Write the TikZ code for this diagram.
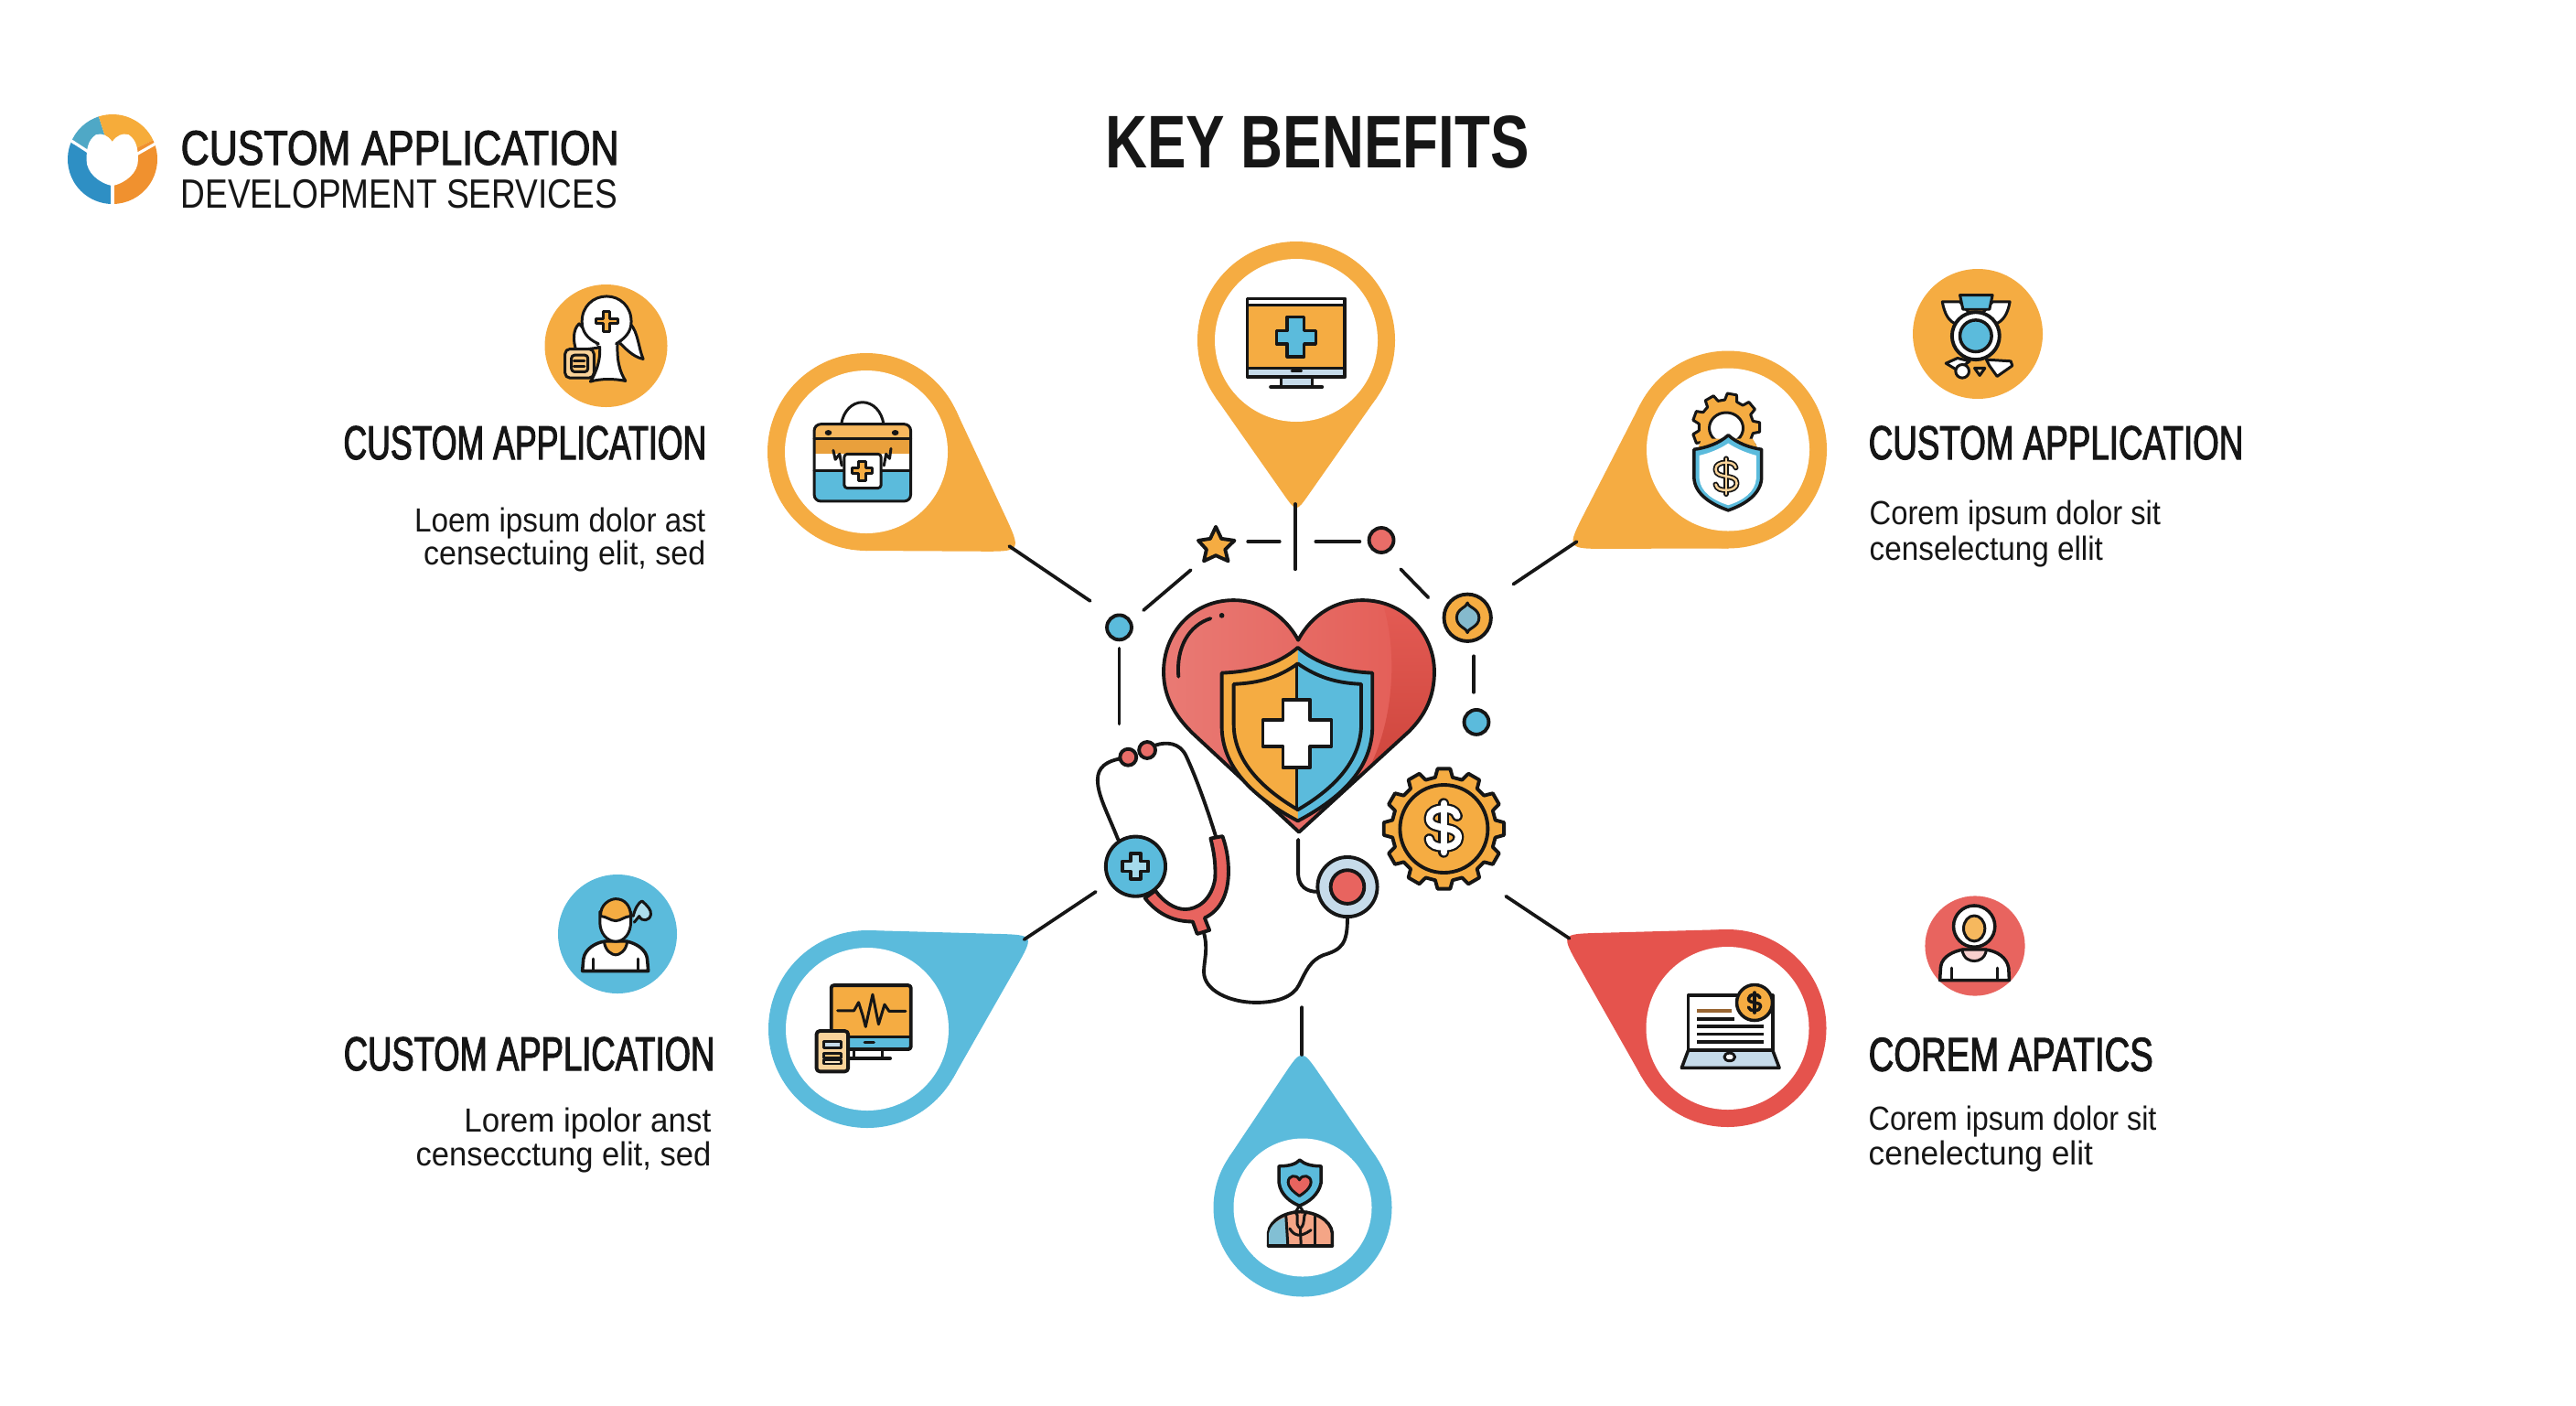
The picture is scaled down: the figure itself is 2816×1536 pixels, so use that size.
\documentclass[tikz,border=0pt]{standalone}
\usepackage{fontspec}
\setmainfont{Liberation Sans}
\newfontfamily\titlefont[FakeStretch=0.78]{Liberation Sans Bold}
\newfontfamily\headTL[FakeStretch=0.685,FakeBold=2]{Liberation Sans}
\newfontfamily\headTR[FakeStretch=0.707,FakeBold=2]{Liberation Sans}
\newfontfamily\headBL[FakeStretch=0.70,FakeBold=2]{Liberation Sans}
\newfontfamily\headBR[FakeStretch=0.735,FakeBold=2]{Liberation Sans}
\newfontfamily\logoafont[FakeStretch=0.81,FakeBold=2]{Liberation Sans}
\newfontfamily\logobfont[FakeStretch=0.83]{Liberation Sans}
\newfontfamily\bodyTLa[FakeStretch=0.91]{Liberation Sans}
\newfontfamily\bodyTLb[FakeStretch=0.93]{Liberation Sans}
\newfontfamily\bodyTRa[FakeStretch=0.895]{Liberation Sans}
\newfontfamily\bodyTRb[FakeStretch=0.91]{Liberation Sans}
\newfontfamily\bodyBLa[FakeStretch=0.955]{Liberation Sans}
\newfontfamily\bodyBLb[FakeStretch=0.945]{Liberation Sans}
\newfontfamily\bodyBRa[FakeStretch=0.885]{Liberation Sans}
\newfontfamily\bodyBRb[FakeStretch=0.965]{Liberation Sans}
\definecolor{oran}{HTML}{F5AC42}
\definecolor{oranD}{HTML}{E9A03C}
\definecolor{oranL}{HTML}{F9D39A}
\definecolor{blu}{HTML}{5BBBDC}
\definecolor{bluL}{HTML}{C6DBEA}
\definecolor{redd}{HTML}{E5534D}
\definecolor{redL}{HTML}{E97A74}
\definecolor{redM}{HTML}{E35B54}
\definecolor{redD}{HTML}{CF463D}
\definecolor{ink}{HTML}{161616}
\definecolor{peach}{HTML}{F4A586}
\definecolor{logoa}{RGB}{46,143,196}
\definecolor{logob}{RGB}{79,168,198}
\definecolor{logoc}{RGB}{246,172,58}
\definecolor{logod}{RGB}{240,145,47}
\tikzset{
  ln/.style={draw=ink,line width=.85pt,line join=round,line cap=round},
  lnb/.style={draw=ink,line width=1.1pt,line join=round,line cap=round},
  conn/.style={draw=ink,line width=1.05pt,line cap=round},
  titlet/.style={font=\titlefont\fontsize{23.2}{26}\selectfont,text=ink,inner sep=0pt},
  headt/.style={text=ink,inner sep=0pt},
  bodyt/.style={text=ink,inner sep=0pt},
  zA/.style={shift={(1100,500)},x=0.0040816cm,y=-0.0040816cm},
  zL/.style={shift={(40,90)},x=0.0044643cm,y=-0.0033333cm},
  zC/.style={shift={(560,280)},x=0.0038462cm,y=-0.0033333cm},
  zD/.style={shift={(1280,250)},x=0.0048473cm,y=-0.0033333cm},
  zE/.style={shift={(560,940)},x=0.0038270cm,y=-0.0033333cm},
  zF/.style={shift={(1280,1000)},x=0.0048473cm,y=-0.0033333cm},
  zG/.style={shift={(1300,1130)},x=0.0033333cm,y=-0.0033333cm},
  zH/.style={shift={(2040,280)},x=0.0033333cm,y=-0.0033333cm},
  zI/.style={shift={(2040,960)},x=0.0033333cm,y=-0.0033333cm},
}
\newcommand\hs{\fontsize{14.8}{17}\selectfont}
\newcommand\bs{\fontsize{10.4}{12}\selectfont}
% cx cy R r tipx tipy colour roundness
\newcommand\pinshape[8]{%
  \pgfmathsetmacro\pa{atan2(#6-#2,#5-#1)}%
  \pgfmathsetmacro\pd{veclen(#6-#2,#5-#1)}%
  \pgfmathsetmacro\pb{acos(#3/\pd)}%
  \pgfmathsetmacro\Ax{#1+#3*cos(\pa+\pb)}\pgfmathsetmacro\Ay{#2+#3*sin(\pa+\pb)}%
  \pgfmathsetmacro\Bx{#1+#3*cos(\pa-\pb)}\pgfmathsetmacro\By{#2+#3*sin(\pa-\pb)}%
  \pgfmathsetmacro\pl{\pd*sin(\pb)}%
  \pgfmathsetmacro\kk{#8/\pl}%
  \pgfmathsetmacro\Cx{#5+(\Ax-#5)*\kk}\pgfmathsetmacro\Cy{#6+(\Ay-#6)*\kk}%
  \pgfmathsetmacro\Dx{#5+(\Bx-#5)*\kk}\pgfmathsetmacro\Dy{#6+(\By-#6)*\kk}%
  \fill[#7] (#1,#2) circle[radius=#3];
  \fill[#7] (\Ax,\Ay) -- (\Cx,\Cy) .. controls (#5,#6) .. (\Dx,\Dy) -- (\Bx,\By) -- (#1,#2) -- cycle;
  \fill[white] (#1,#2) circle[radius=#4];
}
% cx cy rout rin teeth  -> path
\newcommand\gearp[6][]{%
  \path[#1] ({#2+#5*cos(-0.32*360/#6)},{#3+#5*sin(-0.32*360/#6)})
  \foreach \ga in {1,...,#6}{
    -- ({#2+#4*cos((\ga-1-0.20)*360/#6)},{#3+#4*sin((\ga-1-0.20)*360/#6)})
    -- ({#2+#4*cos((\ga-1+0.20)*360/#6)},{#3+#4*sin((\ga-1+0.20)*360/#6)})
    -- ({#2+#5*cos((\ga-1+0.32)*360/#6)},{#3+#5*sin((\ga-1+0.32)*360/#6)})
    -- ({#2+#5*cos((\ga-0.32)*360/#6)},{#3+#5*sin((\ga-0.32)*360/#6)})
  } -- cycle;
}
% x y size outerwidth innerwidth fillcolour
\newcommand\dollarmark[6]{%
  \begin{scope}[shift={(#1,#2)},x={#3*0.01cm},y={-#3*0.01cm}]
    \foreach \lw/\cc in {#4/ink,#5/#6}{
      \draw[line width=\lw,\cc,line cap=round,line join=round]
        (.5,-.45) .. controls (.45,-.68) and (.2,-.72) .. (0,-.72)
        .. controls (-.32,-.72) and (-.55,-.6) .. (-.55,-.36)
        .. controls (-.55,-.06) and (-.2,-.05) .. (0,0)
        .. controls (.25,.05) and (.55,.08) .. (.55,.36)
        .. controls (.55,.6) and (.3,.72) .. (0,.72)
        .. controls (-.25,.72) and (-.5,.68) .. (-.55,.42);
      \draw[line width=\lw,\cc,line cap=round] (0,-.92) -- (0,.92);
    }
  \end{scope}
}
\begin{document}
\begin{tikzpicture}[x=0.01cm,y=-0.01cm]
\useasboundingbox (0,0) rectangle (2816,1536);
\fill[white] (0,0) rectangle (2816,1536);

% ---------- logo
\fill[logoa] (123,174) -- ++(90:49) arc (90:201:49) -- cycle;
\fill[logob] (123,174) -- ++(201:49) arc (201:252:49) -- cycle;
\fill[logoc] (123,174) -- ++(252:49) arc (252:335:49) -- cycle;
\fill[logod] (123,174) -- ++(335:49) arc (335:450:49) -- cycle;
\begin{scope}[zL]
\fill[white] (185,195) .. controls (175,175) and (160,165) .. (145,172)
  .. controls (125,190) and (122,220) .. (122,255)
  .. controls (122,295) and (150,330) .. (185,340)
  .. controls (220,330) and (248,295) .. (248,255)
  .. controls (248,220) and (245,190) .. (225,172)
  .. controls (210,165) and (195,175) .. (185,195) -- cycle;
\draw[white,line width=.9pt] (78,186) -- (125,227);
\draw[white,line width=.9pt] (295,198) -- (245,236);
\draw[white,line width=1.1pt] (185,335) -- (185,405);
\end{scope}
\node[font=\logoafont\fontsize{15.1}{17}\selectfont,text=ink,inner sep=0pt,anchor=base west] (logoA) at (197,180) {CUSTOM APPLICATION};
\node[font=\logobfont\fontsize{12.7}{15}\selectfont,text=ink,inner sep=0pt,anchor=base west] (logoB) at (197,227) {DEVELOPMENT SERVICES};
\node[titlet,anchor=base] (title) at (1440,183) {KEY BENEFITS};

% ---------- pins
\pinshape{947}{494}{108}{89}{1117}{603}{oran}{46}
\pinshape{1417}{372}{108}{89}{1417}{560}{oran}{24}
\pinshape{1889}{491.5}{108}{89}{1712}{600}{oran}{46}
\pinshape{948}{1125}{108}{89}{1131}{1022}{blu}{42}
\pinshape{1424}{1320}{97.5}{75.5}{1423}{1146}{blu}{36}
\pinshape{1888.5}{1124}{108}{89}{1706}{1021}{redd}{42}

% ---------- connectors
\begin{scope}[zA]
\coordinate (cA1) at (8,238);   \coordinate (cA2) at (225,385);
\coordinate (cB1) at (368,410); \coordinate (cB2) at (495,302);
\coordinate (cC1) at (648,226); \coordinate (cC2) at (733,226);
\coordinate (cD1) at (775,125); \coordinate (cD2) at (775,300);
\coordinate (cE1) at (830,226); \coordinate (cE2) at (948,226);
\coordinate (cF1) at (1058,300);\coordinate (cF2) at (1132,376);
\coordinate (cG1) at (1360,340);\coordinate (cG2) at (1530,226);
\coordinate (cH1) at (1254,533);\coordinate (cH2) at (1254,630);
\coordinate (cI1) at (303,512); \coordinate (cI2) at (303,715);
\coordinate (cJ1) at (240,1165);\coordinate (cJ2) at (48,1293);
\coordinate (cK1) at (1340,1177);\coordinate (cK2) at (1510,1290);
\coordinate (cL1) at (793,1475);\coordinate (cL2) at (793,1602);
\end{scope}
\foreach \n in {A,B,C,D,E,F,G,H,I,J,K,L}{ \draw[conn] (c\n1) -- (c\n2); }

% ---------- centre graphic
\begin{scope}[zA]
\shade[left color=redL,right color=redM] (783,490) .. controls (745,420) and (680,383) .. (610,383)
  .. controls (500,383) and (422,470) .. (422,575)
  .. controls (422,650) and (460,700) .. (500,740) -- (785,1005) -- (1080,735)
  .. controls (1125,690) and (1148,640) .. (1148,575)
  .. controls (1148,470) and (1065,383) .. (955,383)
  .. controls (885,383) and (820,420) .. (783,490) -- cycle;
\shade[top color=redM,bottom color=redD] (1010,393) .. controls (1100,425) and (1148,500) .. (1148,575)
  .. controls (1148,640) and (1125,690) .. (1080,735) -- (975,830)
  .. controls (1040,700) and (1050,520) .. (1010,393) -- cycle;
\draw[lnb] (783,490) .. controls (745,420) and (680,383) .. (610,383)
  .. controls (500,383) and (422,470) .. (422,575)
  .. controls (422,650) and (460,700) .. (500,740) -- (785,1005) -- (1080,735)
  .. controls (1125,690) and (1148,640) .. (1148,575)
  .. controls (1148,470) and (1065,383) .. (955,383)
  .. controls (885,383) and (820,420) .. (783,490) -- cycle;
\draw[lnb] (462,588) .. controls (455,510) and (490,450) .. (548,432);
\fill[ink] (578,424) circle[radius=7];
% shield
\fill[oran] (782,510) .. controls (730,555) and (660,575) .. (578,578) -- (578,720)
  .. controls (578,830) and (660,910) .. (782,975) -- cycle;
\fill[blu] (782,975) .. controls (905,910) and (982,830) .. (982,720) -- (982,578)
  .. controls (905,575) and (835,555) .. (782,510) -- cycle;
\draw[lnb] (782,510) .. controls (730,555) and (660,575) .. (578,578) -- (578,720)
  .. controls (578,830) and (660,910) .. (782,975)
  .. controls (905,910) and (982,830) .. (982,720) -- (982,578)
  .. controls (905,575) and (835,555) .. (782,510) -- cycle;
\draw[lnb] (782,553) .. controls (730,590) and (680,605) .. (610,608) -- (610,715)
  .. controls (610,810) and (680,885) .. (782,945)
  .. controls (885,885) and (952,810) .. (952,715) -- (952,608)
  .. controls (885,605) and (835,590) .. (782,553) -- cycle;
\draw[ln] (780,553) -- (780,945);
\draw[lnb,fill=white] (742,650) -- (815,650) -- (815,705) -- (872,705) -- (872,775) -- (815,775) -- (815,832) -- (742,832) -- (742,775) -- (688,775) -- (688,705) -- (742,705) -- cycle;
% small marks
\draw[lnb,fill=oran] (562,186) -- (577,218) -- (612,223) -- (587,247) -- (595,278) -- (562,263) -- (530,278) -- (537,247) -- (515,223) -- (547,218) -- cycle;
\draw[lnb,fill=redd!85!white] (1006,222) circle[radius=33];
\draw[lnb,fill=blu] (303,456) circle[radius=33];
\draw[lnb,fill=blu] (1261,710) circle[radius=33];
\draw[lnb,fill=oran] (1237,430) circle[radius=63];
\draw[ln,fill=blu!70!gray!80!white] (1237,390) .. controls (1238,402) and (1268,405) .. (1268,430) .. controls (1268,455) and (1238,458) .. (1237,470) .. controls (1236,458) and (1208,455) .. (1208,430) .. controls (1208,405) and (1236,402) .. (1237,390) -- cycle;
% stethoscope
\draw[lnb] (300,1025) .. controls (270,950) and (245,905) .. (245,865) .. controls (245,830) and (270,815) .. (305,808);
\draw[lnb] (400,772) .. controls (430,762) and (465,765) .. (482,800) .. controls (510,860) and (540,945) .. (563,1020);
\draw[lnb,fill=redd!85!white] (327,804) circle[radius=22];
\draw[lnb,fill=redd!85!white] (378,785) circle[radius=22];
\draw[lnb,fill=redd!90!white] (372,1182) .. controls (410,1230) and (455,1245) .. (500,1245)
  -- (512,1278) -- (545,1268) -- (532,1235)
  .. controls (575,1215) and (596,1170) .. (596,1110) .. controls (596,1075) and (590,1045) .. (580,1016)
  -- (548,1022) .. controls (558,1060) and (562,1095) .. (560,1130)
  .. controls (550,1190) and (510,1212) .. (480,1212) .. controls (450,1212) and (420,1190) .. (400,1162) -- cycle;
\draw[lnb,fill=blu] (347,1097) circle[radius=80];
\draw[lnb,fill=blu!55!white] (333,1062) -- (360,1062) -- (360,1083) -- (381,1083) -- (381,1110) -- (360,1110) -- (360,1130) -- (333,1130) -- (333,1110) -- (312,1110) -- (312,1083) -- (333,1083) -- cycle;
\draw[lnb] (530,1275) .. controls (542,1320) and (530,1350) .. (530,1380)
  .. controls (530,1430) and (600,1462) .. (670,1462)
  .. controls (730,1462) and (770,1445) .. (785,1415)
  .. controls (805,1375) and (815,1350) .. (850,1335)
  .. controls (900,1320) and (915,1305) .. (915,1235);
\draw[lnb] (783,1025) -- (783,1120) .. controls (785,1150) and (805,1165) .. (835,1165);
\draw[lnb,fill=bluL] (915,1152) circle[radius=80];
\draw[lnb,fill=redd!90!white] (915,1152) circle[radius=45];
\end{scope}
\gearp[lnb,fill=oran]{1578.4}{906}{66}{57}{12}
\draw[lnb] (1578.4,906) circle[radius=48];
\dollarmark{1578.4}{905}{29}{3.4pt}{2.1pt}{white}

% ---------- icon: medkit
\begin{scope}[zC]
\draw[ln] (935,552) .. controls (940,510) and (965,480) .. (995,480) .. controls (1025,480) and (1050,510) .. (1055,552);
\begin{scope}
\clip[rounded corners=2pt] (858,552) rectangle (1132,805);
\fill[oran!85!white] (858,552) rectangle (1132,600);
\fill[oranD] (858,600) rectangle (1132,650);
\fill[white] (858,650) rectangle (1132,705);
\fill[blu] (858,705) rectangle (1132,805);
\end{scope}
\draw[ln] (858,600) -- (1132,600);
\draw[ln] (858,705) -- (945,705);\draw[ln] (1048,705) -- (1132,705);
\draw[ln] (912,638) -- (918,668) -- (930,650) -- (936,688);
\draw[ln] (1056,688) -- (1062,650) -- (1072,665) -- (1076,632);
\draw[ln,rounded corners=2pt] (858,552) rectangle (1132,805);
\fill[ink] (898,580) circle[x radius=10,y radius=9];
\fill[ink] (1088,580) circle[x radius=10,y radius=9];
\draw[ln,fill=white,rounded corners=1pt] (943,650) rectangle (1048,762);
\draw[ln,fill=oran] (985,675) -- (1005,675) -- (1005,695) -- (1024,695) -- (1024,715) -- (1005,715) -- (1005,738) -- (985,738) -- (985,715) -- (966,715) -- (966,695) -- (985,695) -- cycle;
\end{scope}
% ---------- icon: person with bag
\fill[oran] (662.5,378) circle[radius=67];
\begin{scope}[zC]
\draw[ln,fill=white] (190,222) .. controls (172,240) and (172,280) .. (182,310) -- (250,300) -- cycle;
\draw[ln,fill=white] (335,222) .. controls (358,250) and (358,300) .. (372,338) .. controls (340,330) and (320,300) .. (305,285) -- cycle;
\draw[ln,fill=white] (222,412) .. controls (245,370) and (255,320) .. (245,270) -- (300,270) .. controls (295,340) and (305,380) .. (322,410) .. controls (290,402) and (250,402) .. (222,412) -- cycle;
\fill[white] (268,215) circle[x radius=70,y radius=83];
\draw[ln] (245,288) .. controls (210,270) and (198,245) .. (198,215) .. controls (198,165) and (230,132) .. (268,132) .. controls (306,132) and (338,165) .. (338,215) .. controls (338,250) and (320,270) .. (295,288);
\draw[ln,fill=oran] (258,182) -- (278,182) -- (278,205) -- (300,205) -- (300,222) -- (278,222) -- (278,248) -- (258,248) -- (258,222) -- (238,222) -- (238,205) -- (258,205) -- cycle;
\draw[ln,fill=oranL,rounded corners=1.5pt] (150,305) rectangle (232,400);
\draw[ln,fill=oranL!60!oran,rounded corners=1pt] (168,325) rectangle (215,380);
\draw[ln] (175,345) -- (205,345);\draw[ln] (175,362) -- (205,362);
\end{scope}
% ---------- icon: monitor
\begin{scope}[zD]
\draw[ln,fill=bluL] (248,487) rectangle (318,518);
\draw[ln,line width=1.2pt] (225,520) -- (340,520);
\fill[white] (172,230) rectangle (392,250);
\fill[oran] (172,250) rectangle (392,458);
\fill[bluL] (172,458) rectangle (392,487);
\draw[ln] (172,250) -- (392,250);\draw[ln] (172,458) -- (392,458);
\draw[ln,line width=1.1pt] (172,230) rectangle (392,487);
\draw[ln] (272,467) -- (294,467);
\draw[ln,fill=blu,line width=1pt] (262,290) -- (300,290) -- (300,335) -- (326,335) -- (326,378) -- (300,378) -- (300,420) -- (262,420) -- (262,378) -- (238,378) -- (238,335) -- (262,335) -- cycle;
\end{scope}
% ---------- icon: gear and shield
\gearp[ln,fill=oran]{1887}{467}{37}{30}{9}
\fill[white,draw=ink,line width=.85pt] (1887,468) circle[x radius=18.5,y radius=17];
\begin{scope}[zD]
\fill[oran] (1195,690) -- (1310,690) -- (1325,730) -- (1255,700) -- (1185,730) -- cycle;
\draw[ln,fill=blu,line width=1pt] (1255,678) .. controls (1235,705) and (1205,720) .. (1178,725)
  -- (1178,820) .. controls (1180,870) and (1215,905) .. (1255,925)
  .. controls (1295,905) and (1328,870) .. (1330,820) -- (1330,725)
  .. controls (1305,720) and (1275,705) .. (1255,678) -- cycle;
\fill[white] (1255,705) .. controls (1235,725) and (1210,738) .. (1190,745)
  -- (1190,820) .. controls (1192,865) and (1222,893) .. (1255,908)
  .. controls (1288,893) and (1316,865) .. (1318,820) -- (1318,745)
  .. controls (1300,738) and (1275,725) .. (1255,705) -- cycle;
\end{scope}
\dollarmark{1887}{520.7}{21}{1.7pt}{.7pt}{oranL}
% ---------- icon: monitor + tablet
\begin{scope}[zE]
\draw[ln] (975,622) -- (975,652);\draw[ln] (1055,622) -- (1055,652);
\draw[ln,line width=1.1pt] (940,652) -- (1078,652);
\fill[oran] (910,412) rectangle (1137,580);
\fill[blu] (910,580) rectangle (1137,622);
\draw[ln] (910,580) -- (1137,580);
\draw[ln,line width=1.1pt,rounded corners=.8pt] (910,412) rectangle (1137,622);
\draw[ln] (928,495) -- (975,495) -- (988,468) -- (1000,512) -- (1008,548) -- (1028,442) -- (1045,540) -- (1062,475) -- (1075,497) -- (1122,497);
\draw[ln] (1005,600) -- (1032,600);
\draw[ln,fill=oranL,line width=1.1pt,rounded corners=1pt] (868,562) rectangle (958,695);
\draw[ln,fill=bluL] (888,595) rectangle (938,618);
\draw[ln,fill=oranL!60!oran] (888,635) rectangle (938,650);
\draw[ln,fill=oranL!60!white] (888,655) rectangle (938,670);
\end{scope}
% ---------- icon: blue person
\fill[blu] (675,1021) circle[radius=65];
\begin{scope}[zE]
\draw[ln,fill=white,line width=1pt] (200,365) -- (203,325) .. controls (208,290) and (240,272) .. (262,268) -- (328,268) .. controls (355,275) and (382,295) .. (385,325) -- (388,365) -- cycle;
\draw[ln,fill=oran] (262,268) .. controls (265,300) and (285,312) .. (295,312) .. controls (305,312) and (325,300) .. (328,268) -- cycle;
\draw[ln] (232,325) -- (232,365);\draw[ln] (358,325) -- (358,365);
\draw[ln,fill=white] (250,205) .. controls (250,240) and (270,268) .. (295,268) .. controls (320,268) and (338,240) .. (338,205) -- (338,170) -- (250,170) -- cycle;
\draw[ln,fill=oran] (252,185) .. controls (250,145) and (280,128) .. (295,128) .. controls (320,128) and (338,150) .. (338,185) .. controls (320,185) and (310,200) .. (295,200) .. controls (280,200) and (268,185) .. (252,185) -- cycle;
\draw[ln,fill=blu!50!white] (345,185) .. controls (350,160) and (360,140) .. (370,135) .. controls (385,150) and (398,165) .. (395,180) .. controls (392,200) and (370,205) .. (362,185) -- (348,205);
\end{scope}
% ---------- icon: medal
\fill[oran] (2162,365) circle[radius=71];
\begin{scope}[zH]
\draw[ln,fill=white] (250,150) -- (308,150) -- (345,195) -- (375,195) -- (415,150) -- (472,150) .. controls (465,190) and (450,215) .. (420,225) -- (300,225) .. controls (270,215) and (258,190) .. (250,150) -- cycle;
\draw[ln,fill=blu] (308,128) -- (415,128) -- (405,175) -- (318,175) -- cycle;
\draw[ln,fill=white] (262,352) -- (300,335) -- (340,345) -- (300,375) -- cycle;
\draw[ln,fill=white] (395,340) -- (475,345) -- (480,360) -- (430,395) -- (405,360) -- cycle;
\draw[ln,fill=white] (316,378) circle[radius=22];
\draw[ln,fill=white,line width=1.1pt] (360,262) circle[radius=78];
\draw[ln,fill=blu,line width=1pt] (360,262) circle[radius=52];
\draw[ln,fill=oranL] (356,368) -- (390,368) -- (373,392) -- cycle;
\end{scope}
% ---------- icon: red person
\fill[redd!90!white] (2159,1034) circle[radius=54.6];
\begin{scope}[zI]
\draw[ln,fill=white,line width=1pt] (242,335) -- (245,290) .. controls (250,255) and (290,240) .. (315,235) -- (395,235) .. controls (430,240) and (462,260) .. (468,295) -- (470,335) -- cycle;
\draw[ln,fill=redL!35!white] (315,235) .. controls (320,265) and (340,272) .. (355,272) .. controls (370,272) and (390,265) .. (395,235) -- cycle;
\draw[ln] (280,295) -- (280,335);\draw[ln] (432,295) -- (432,335);
\draw[ln,fill=white,line width=1pt] (355,158) circle[radius=68];
\draw[ln,fill=oran!85!white] (355,165) circle[x radius=35,y radius=42];
\end{scope}
% ---------- icon: laptop
\begin{scope}[zF]
\draw[ln,fill=white,line width=1pt] (1165,265) rectangle (1355,445);
\draw[ln,fill=bluL,line width=1pt] (1165,445) -- (1355,445) -- (1370,503) -- (1150,503) -- cycle;
\draw[ln,fill=white] (1258,467) circle[x radius=12,y radius=13];
\draw[color=brown!80!black,line width=1pt] (1185,315) -- (1262,315);
\draw[ink,line width=1pt] (1185,342) -- (1268,342);
\draw[ink,line width=1pt] (1185,367) -- (1335,367);
\draw[ink,line width=1pt] (1185,392) -- (1335,392);
\draw[ink,line width=1pt] (1185,417) -- (1335,417);
\end{scope}
\draw[ln,fill=oran,line width=1pt] (1918,1096) circle[radius=19.5];
\dollarmark{1918}{1096}{12}{1pt}{.2pt}{ink}
% ---------- icon: person with shield
\begin{scope}[zG]
\draw[ln,fill=peach,line width=1pt] (260,697) -- (260,655) .. controls (265,610) and (320,585) .. (365,585) .. controls (410,585) and (465,610) .. (470,655) -- (470,697) -- cycle;
\fill[blu!80!gray!80!white] (262,695) -- (262,655) .. controls (266,630) and (290,612) .. (318,602) -- (318,695) -- cycle;
\draw[ln] (318,600) -- (324,695);\draw[ln] (412,600) -- (412,695);\draw[ln,line width=1pt] (260,697) -- (470,697);
\draw[ln] (345,585) .. controls (370,600) and (340,620) .. (365,640) .. controls (385,620) and (370,600) .. (385,585);
\draw[ln] (330,640) .. controls (345,665) and (365,670) .. (400,645);
\draw[ln] (365,640) -- (367,690);
\draw[ln] (362,565) -- (350,585);\draw[ln] (362,565) -- (375,585);
\draw[ln,fill=blu,line width=1pt] (363,415) .. controls (350,428) and (330,435) .. (295,435) -- (295,490) .. controls (300,530) and (335,555) .. (362,565) .. controls (390,555) and (425,530) .. (433,490) -- (433,435) .. controls (400,435) and (378,428) .. (363,415) -- cycle;
\draw[ln,fill=redd!90!white] (362,533) .. controls (335,515) and (325,500) .. (325,488) .. controls (325,465) and (352,460) .. (362,480) .. controls (372,460) and (400,465) .. (400,488) .. controls (400,500) and (390,515) .. (362,533) -- cycle;
\end{scope}

% ---------- texts
\node[headt,font=\headTL\hs,anchor=base east] (hTL) at (773,502) {CUSTOM APPLICATION};
\node[bodyt,font=\bodyTLa\bs,anchor=base east] (bTLa) at (772,581) {Loem ipsum dolor ast};
\node[bodyt,font=\bodyTLb\bs,anchor=base east] (bTLb) at (772,617) {censectuing elit, sed};
\node[headt,font=\headTR\hs,anchor=base west] (hTR) at (2042,502) {CUSTOM APPLICATION};
\node[bodyt,font=\bodyTRa\bs,anchor=base west] (bTRa) at (2043,573) {Corem ipsum dolor sit};
\node[bodyt,font=\bodyTRb\bs,anchor=base west] (bTRb) at (2043,612) {censelectung ellit};
\node[headt,font=\headBL\hs,anchor=base east] (hBL) at (782,1170) {CUSTOM APPLICATION};
\node[bodyt,font=\bodyBLa\bs,anchor=base east] (bBLa) at (778,1237) {Lorem ipolor anst};
\node[bodyt,font=\bodyBLb\bs,anchor=base east] (bBLb) at (778,1274) {censecctung elit, sed};
\node[headt,font=\headBR\hs,anchor=base west] (hBR) at (2042,1170.7) {COREM APATICS};
\node[bodyt,font=\bodyBRa\bs,anchor=base west] (bBRa) at (2042,1235) {Corem ipsum dolor sit};
\node[bodyt,font=\bodyBRb\bs,anchor=base west] (bBRb) at (2042,1273) {cenelectung elit};
\end{tikzpicture}
\end{document}
